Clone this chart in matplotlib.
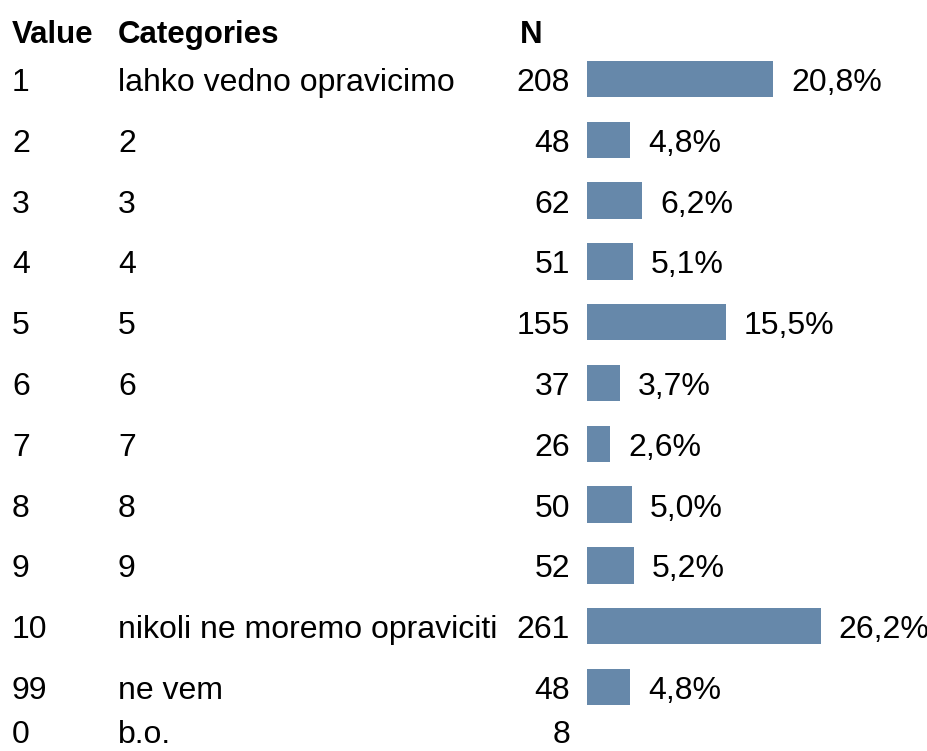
import matplotlib.pyplot as plt
import matplotlib.transforms as mtransforms

plt.rcParams['font.family'] = ['Liberation Sans', 'DejaVu Sans']

values = ["1", "2", "3", "4", "5", "6", "7", "8", "9", "10", "99", "0"]
categories = ["lahko vedno opravicimo", "2", "3", "4", "5", "6", "7", "8", "9",
              "nikoli ne moremo opraviciti", "ne vem", "b.o."]
counts = [208, 48, 62, 51, 155, 37, 26, 50, 52, 261, 48, 8]
percents = ["20,8%", "4,8%", "6,2%", "5,1%", "15,5%", "3,7%", "2,6%",
            "5,0%", "5,2%", "26,2%", "4,8%", ""]
has_bar = [True] * 11 + [False]

W, H = 928, 751
fig = plt.figure(figsize=(W / 100, H / 100), dpi=100)
ax = fig.add_axes([0, 0, 1, 1])
ax.axis("off")

# layout in pixels
x0 = 587          # bar origin
k = 0.895         # pixels per count
row0 = 79         # centre of first row
step = 60.8       # row spacing

ax.set_xlim(-x0 / k, (W - x0) / k)
ax.set_ylim(1 + (H - row0) / step, 1 - row0 / step)

rows = list(range(1, len(values) + 1))
bar_rows = [r for r, b in zip(rows, has_bar) if b]
bar_counts = [c for c, b in zip(counts, has_bar) if b]
ax.barh(bar_rows, bar_counts, height=0.6, left=0, color="#6688aa")

trans = mtransforms.blended_transform_factory(fig.transFigure, ax.transData)
fs = 23
base = 12 / step  # baseline offset below row centre

def yrow(r):
    # last row sits a little higher than the regular spacing
    return r if r < 12 else 11.72

hy = 1 + (43 - row0) / step
ax.text(12 / W, hy, "Value", transform=trans, fontsize=22.5, fontweight="bold", va="baseline")
ax.text(118 / W, hy, "Categories", transform=trans, fontsize=22.5, fontweight="bold", va="baseline")
ax.text(520 / W, hy, "N", transform=trans, fontsize=22.5, fontweight="bold", va="baseline")

for r, v, cat, n, p in zip(rows, values, categories, counts, percents):
    y = yrow(r) + base
    ax.text(12 / W, y, v, transform=trans, fontsize=fs, va="baseline")
    ax.text(118 / W, y, cat, transform=trans, fontsize=fs, va="baseline")
    ax.text(570 / W, y, str(n), transform=trans, fontsize=fs, va="baseline", ha="right")
    if p:
        ax.text(n + 18 / k, y, p, fontsize=fs, va="baseline")

plt.savefig("out.png", dpi=100)
plt.close(fig)
